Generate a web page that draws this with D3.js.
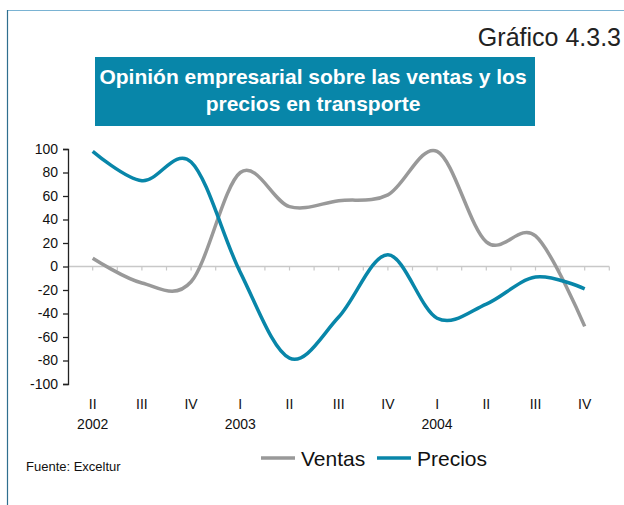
<!DOCTYPE html>
<html>
<head>
<meta charset="utf-8">
<script src="https://cdn.jsdelivr.net/npm/d3@7"></script>
<style>
  body { margin: 0; background: #fff; }
  svg { display: block; font-family: "Liberation Sans", Arial, sans-serif; }
</style>
</head>
<body>
<script>
var quarters = ['II', 'III', 'IV', 'I', 'II', 'III', 'IV', 'I', 'II', 'III', 'IV'];
var years = [{label: '2002', at: 0}, {label: '2003', at: 3}, {label: '2004', at: 7}];
var ventas = [7, -14, -13, 80, 51, 56, 61, 98, 21, 26, -51];
var precios = [98, 73, 89, -5, -78, -43, 10, -44, -32, -9, -19];
var yTicks = [100, 80, 60, 40, 20, 0, -20, -40, -60, -80, -100];

var width = 624, height = 505;
var blue = '#0886a9', gray = '#999999';

var svg = d3.select('body').append('svg')
  .attr('width', width)
  .attr('height', height);

// frame
svg.append('line').attr('x1', 7).attr('x2', width).attr('y1', 10.5).attr('y2', 10.5)
  .style('stroke', '#7ab3d3').style('stroke-width', 1.2);
svg.append('line').attr('x1', 7.5).attr('x2', 7.5).attr('y1', 10).attr('y2', height)
  .style('stroke', '#2f6f8f').style('stroke-width', 1.2);

svg.append('text')
  .attr('x', 621).attr('y', 46)
  .attr('text-anchor', 'end')
  .style('font-size', '25px')
  .style('fill', '#222')
  .text('Gráfico 4.3.3');

// title box
svg.append('rect')
  .attr('x', 95).attr('y', 57).attr('width', 440).attr('height', 69)
  .style('fill', blue);
var title = svg.append('text')
  .attr('text-anchor', 'middle')
  .style('font-size', '21px')
  .style('font-weight', 'bold')
  .style('fill', '#fff');
title.append('tspan').attr('x', 313).attr('y', 84).text('Opinión empresarial sobre las ventas y los');
title.append('tspan').attr('x', 313).attr('y', 111).text('precios en transporte');

// scales
var idx = d3.range(quarters.length);
var x = d3.scalePoint().domain(idx).range([92.7, 584.7]);
var y = d3.scaleLinear().domain([-100, 100]).range([384, 149]);
var half = x.step() / 2;

// zero line with ticks at half steps
var xTickPos = d3.range(0, quarters.length * 2).map(function(k) { return x(0) + k * half; });
svg.append('line')
  .attr('x1', 68).attr('x2', xTickPos[xTickPos.length - 1])
  .attr('y1', y(0)).attr('y2', y(0))
  .style('stroke', '#c8c8c8').style('stroke-width', 1.5);
svg.selectAll('line.xtick')
  .data(xTickPos)
  .enter().append('line')
  .classed('xtick', true)
  .attr('x1', function(d) { return d; }).attr('x2', function(d) { return d; })
  .attr('y1', y(0)).attr('y2', y(0) + 4)
  .style('stroke', '#c8c8c8').style('stroke-width', 1.2);

// y axis
var yAxis = d3.axisLeft(y).tickValues(yTicks).tickSize(5).tickPadding(5)
  .tickFormat(function(d) { return String(d); });
var gy = svg.append('g')
  .attr('transform', 'translate(68,0)')
  .call(yAxis);
gy.select('.domain').style('stroke', '#222').style('stroke-width', 1.3);
gy.selectAll('.tick line').style('stroke', '#222').style('stroke-width', 1.3);
gy.selectAll('.tick text')
  .style('font-size', '14px')
  .style('font-family', '"Liberation Sans", Arial, sans-serif')
  .style('fill', '#111');

// category labels
svg.selectAll('text.quarter')
  .data(quarters)
  .enter().append('text')
  .classed('quarter', true)
  .attr('x', function(d, i) { return x(i); })
  .attr('y', 409)
  .attr('text-anchor', 'middle')
  .style('font-size', '14px')
  .style('fill', '#111')
  .text(function(d) { return d; });

svg.selectAll('text.year')
  .data(years)
  .enter().append('text')
  .classed('year', true)
  .attr('x', function(d) { return x(d.at); })
  .attr('y', 429)
  .attr('text-anchor', 'middle')
  .style('font-size', '14px')
  .style('fill', '#111')
  .text(function(d) { return d.label; });

// lines
var line = d3.line()
  .x(function(d, i) { return x(i); })
  .y(function(d) { return y(d); })
  .curve(d3.curveCardinal.tension(0));

svg.append('path').datum(ventas)
  .attr('d', line)
  .style('fill', 'none').style('stroke', gray).style('stroke-width', 3.5);
svg.append('path').datum(precios)
  .attr('d', line)
  .style('fill', 'none').style('stroke', blue).style('stroke-width', 3.5);

// legend
var legend = [{name: 'Ventas', color: gray, x: 261}, {name: 'Precios', color: blue, x: 377}];
var lg = svg.selectAll('g.legend')
  .data(legend)
  .enter().append('g')
  .classed('legend', true)
  .attr('transform', function(d) { return 'translate(' + d.x + ',458)'; });
lg.append('line')
  .attr('x1', 0).attr('x2', 34).attr('y1', 0).attr('y2', 0)
  .style('stroke', function(d) { return d.color; }).style('stroke-width', 3.5);
lg.append('text')
  .attr('x', 40).attr('y', 8)
  .style('font-size', '21px')
  .style('fill', '#111')
  .text(function(d) { return d.name; });

svg.append('text')
  .attr('x', 26).attr('y', 471)
  .style('font-size', '13px')
  .style('fill', '#111')
  .text('Fuente: Exceltur');
</script>
</body>
</html>
